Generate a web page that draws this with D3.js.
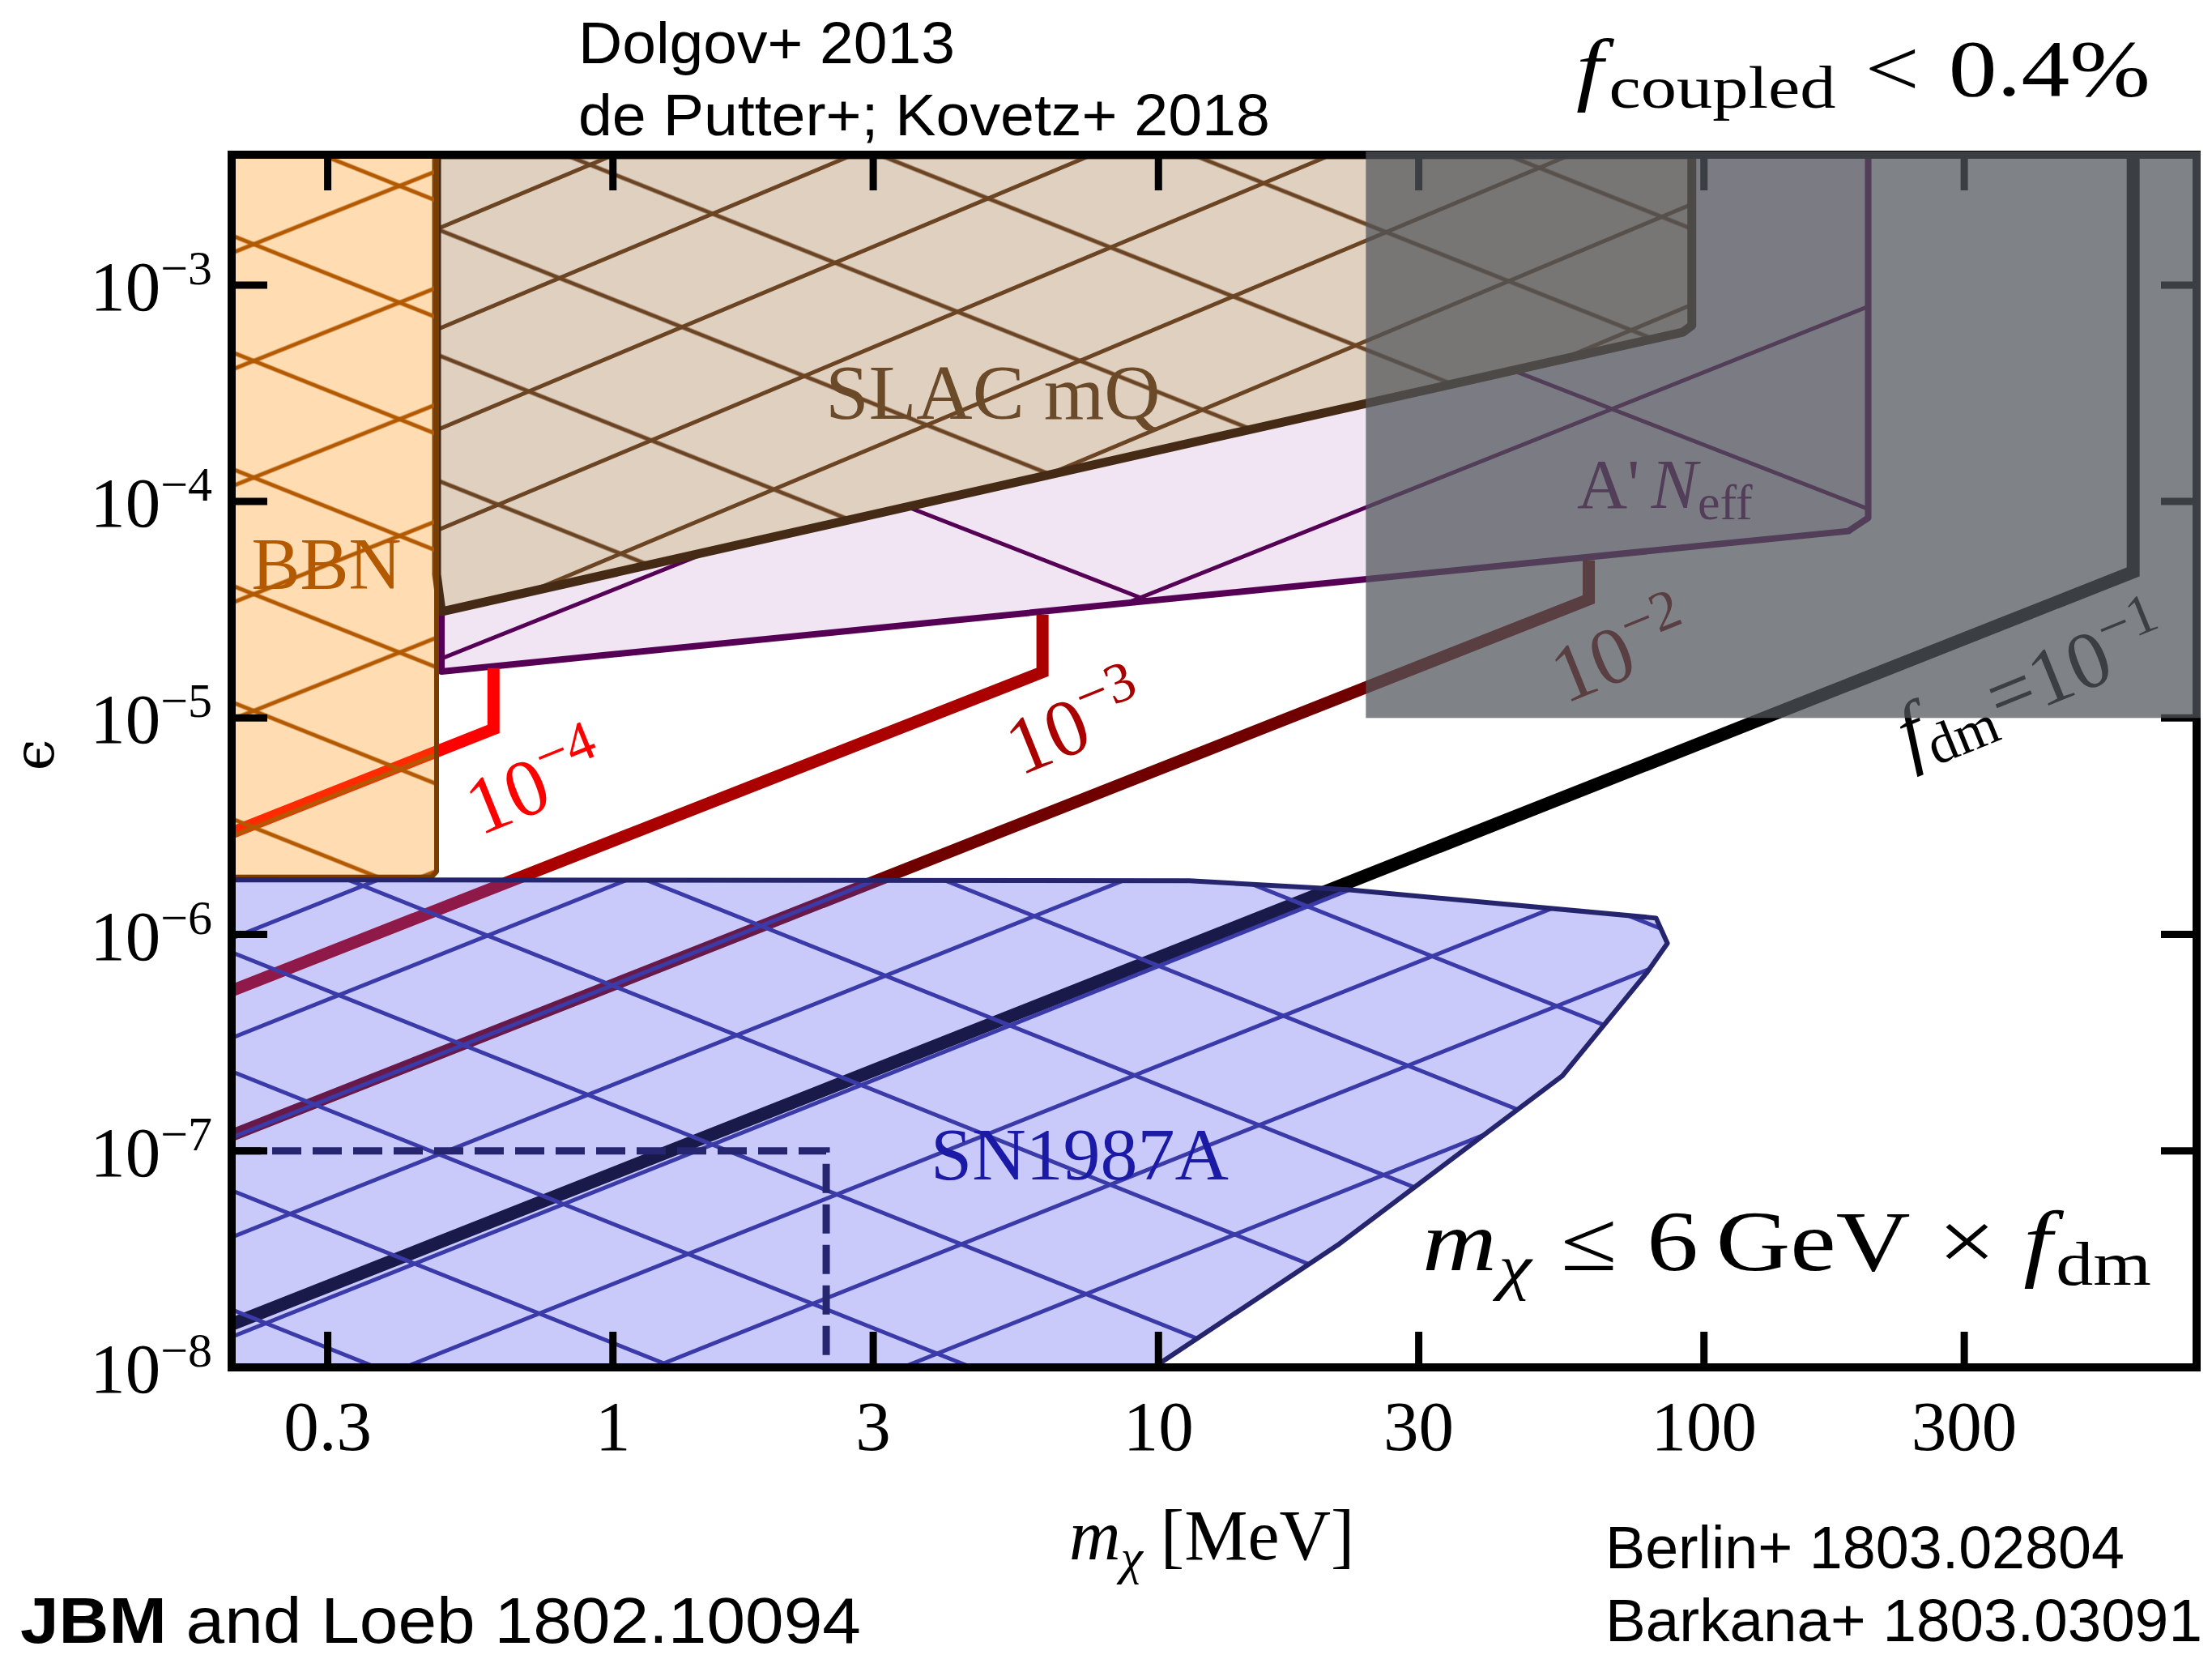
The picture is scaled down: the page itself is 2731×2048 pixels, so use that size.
<!DOCTYPE html>
<html>
<head>
<meta charset="utf-8">
<script src="https://cdn.jsdelivr.net/npm/d3@7"></script>
<style>
  html, body { margin: 0; padding: 0; background: #fff; }
  svg { display: block; }
  .serif { font-family: "Liberation Serif", "DejaVu Serif", serif; }
  .sans { font-family: "Liberation Sans", Arial, sans-serif; }
</style>
</head>
<body>
<svg id="chart" width="2731" height="2048"></svg>
<script>
// axes
var massRange = [0.2, 800];          // m_chi [MeV]
var epsRange = [1e-8, 4e-3];         // epsilon
var massTicks = [0.3, 1, 3, 10, 30, 100, 300];
var massTickLabels = ['0.3', '1', '3', '10', '30', '100', '300'];
var epsTicks = [1e-8, 1e-7, 1e-6, 1e-5, 1e-4, 1e-3];

// excluded regions, points are [m_chi, epsilon]
var bbn = [[0.2, 1.84e-6], [0.465, 1.84e-6], [0.475, 1.95e-6], [0.475, 4e-3], [0.2, 4e-3]];
var slac = [[0.475, 4e-3], [0.475, 4.6e-5], [0.485, 3.1e-5], [91.5, 6.06e-4], [95, 6.5e-4], [95, 4e-3]];
var aprime = [[0.485, 1.64e-5], [184, 7.3e-5], [200, 8.4e-5], [200, 4e-3], [95, 4e-3], [95, 6.5e-4], [91.5, 6.06e-4], [0.485, 3.1e-5]];
var sn1987a = [[0.2, 1.79e-6], [11.4, 1.77e-6], [22.2, 1.61e-6], [81.7, 1.19e-6], [85.7, 9.1e-7], [78.7, 6.7e-7],
               [55, 2.22e-7], [21.3, 3.67e-8], [9.8, 1e-8], [0.2, 1e-8]];
var snDashed = [[0.2, 1e-7], [2.46, 1e-7], [2.46, 1e-8]];
var barkanaMass = [24, 800];
var barkanaEps = [1e-5, 4e-3];

// f_dm curves (coupled fraction < 0.4%)
var fdm4 = [[0.2, 2.95e-6], [0.604, 8.9e-6], [0.604, 1.7e-5]];
var fdm3 = [[0.2, 5.5e-7], [6.13, 1.63e-5], [6.13, 3.0e-5]];
var fdm2 = [[0.2, 1.18e-7], [61.5, 3.53e-5], [61.5, 5.35e-5]];
var fdm1 = [[0.2, 1.58e-8], [612, 4.73e-5], [612, 4e-3]];
var fdmCurves = [fdm4, fdm3, fdm2, fdm1];
var fdmColors = ['#ff0000', '#aa0000', '#700000', '#000000'];

var W = 2731, H = 2048;
var margin = {left: 286, right: 19, top: 191, bottom: 360};

var x = d3.scaleLog().domain(massRange).range([margin.left, W - margin.right]);
var y = d3.scaleLog().domain(epsRange).range([H - margin.bottom, margin.top]);
var line = d3.line().x(function (d) { return x(d[0]); }).y(function (d) { return y(d[1]); });

var svg = d3.select('#chart');
var defs = svg.append('defs');

defs.append('clipPath').attr('id', 'plotclip').append('rect')
  .attr('x', x.range()[0]).attr('y', y.range()[1])
  .attr('width', x.range()[1] - x.range()[0])
  .attr('height', y.range()[0] - y.range()[1]);

// hatch = parallel lines; slope in screen px, vspace = vertical distance between lines
function hatch(id, color, sw, vspace, slope, anchor) {
  var ang = Math.atan(slope) * 180 / Math.PI;
  var h = vspace / Math.sqrt(1 + slope * slope);
  var p = defs.append('pattern')
    .attr('id', id)
    .attr('patternUnits', 'userSpaceOnUse')
    .attr('width', 400).attr('height', h)
    .attr('patternTransform', 'translate(' + anchor[0] + ',' + anchor[1] + ') rotate(' + ang + ') translate(0,' + (-h / 2) + ')');
  p.append('rect').attr('x', 0).attr('y', h / 2 - sw / 2).attr('width', 400).attr('height', sw).attr('fill', color);
}

hatch('bbnUp', '#b35900', 5, 144, -0.40, [292, 310]);
hatch('bbnDn', '#b35900', 5, 144, 0.40, [292, 293]);
hatch('slacUp', '#6b4423', 5, 124, -0.42, [539, 531]);
hatch('slacDn', '#6b4423', 5, 155, 0.40, [540, 283]);
hatch('apUp', '#560055', 5, 270, -0.40, [545, 813]);
hatch('apDn', '#560055', 5, 460, 0.39, [1175, 647]);
hatch('snUp', '#3a3aa8', 5, 123, -0.40, [292, 1279]);
hatch('snDn', '#3a3aa8', 5, 147, 0.40, [292, 1178]);

var plot = svg.append('g').attr('clip-path', 'url(#plotclip)');

function drawRegion(pts, opts) {
  var d = line(pts) + 'Z';
  var g = plot.append('g');
  g.append('path').attr('d', d).attr('fill', opts.fill).attr('fill-opacity', opts.opacity || 1);
  opts.hatch.forEach(function (id) {
    g.append('path').attr('d', d).attr('fill', 'url(#' + id + ')');
  });
  g.append('path').attr('d', d)
    .attr('fill', 'none')
    .attr('stroke', opts.edge)
    .attr('stroke-width', opts.edgeWidth)
    .attr('stroke-linejoin', 'round');
}

function mathText(parent, pieces, attrs) {
  var t = parent.append('text');
  Object.keys(attrs).forEach(function (k) { t.attr(k, attrs[k]); });
  pieces.forEach(function (p) {
    var s = t.append('tspan').text(p.t);
    if (p.size) s.attr('font-size', p.size);
    if (p.it) s.attr('font-style', 'italic');
    if (p.bold) s.attr('font-weight', 'bold');
    if (p.dx) s.attr('dx', p.dx);
    if (p.dy) s.attr('dy', p.dy);
  });
  return t;
}

// stretch a text horizontally so it spans [x0, x0 + width]
function fitWidth(t, x0, width) {
  var bb = t.node().getBBox();
  t.attr('transform', 'translate(' + x0 + ',0) scale(' + (width / bb.width) + ',1) translate(' + (-bb.x) + ',0)');
}

// regions under the curves
drawRegion(aprime, {fill: '#f1e5f3', hatch: ['apUp', 'apDn'], edge: '#560055', edgeWidth: 8});
drawRegion(slac, {fill: '#dfd0bf', hatch: ['slacUp', 'slacDn'], edge: '#452b16', edgeWidth: 11});

// f_dm lines
fdmCurves.forEach(function (c, i) {
  plot.append('path')
    .attr('d', line(c))
    .attr('fill', 'none')
    .attr('stroke', fdmColors[i])
    .attr('stroke-width', i == 3 ? 16 : 15)
    .attr('stroke-linejoin', 'miter')
    .attr('stroke-linecap', 'butt');
});

drawRegion(bbn, {fill: '#ff8c00', opacity: 0.3, hatch: ['bbnUp', 'bbnDn'], edge: '#7a3d00', edgeWidth: 6});
drawRegion(sn1987a, {fill: 'rgb(84,84,239)', opacity: 0.31, hatch: ['snUp', 'snDn'], edge: '#25256e', edgeWidth: 6});

plot.append('path')
  .attr('d', line(snDashed))
  .attr('fill', 'none')
  .attr('stroke', '#262670')
  .attr('stroke-width', 9)
  .attr('stroke-dasharray', '36,14');

// region labels
var labels = svg.append('g').attr('class', 'serif');
labels.append('text').attr('x', 403).attr('y', 727).attr('text-anchor', 'middle')
  .attr('font-size', 90).attr('fill', '#b35900').text('BBN');
labels.append('text').attr('x', 1226).attr('y', 517).attr('text-anchor', 'middle')
  .attr('font-size', 96).attr('fill', '#6b4a2a').text('SLAC mQ');
labels.append('text').attr('x', 1333).attr('y', 1456).attr('text-anchor', 'middle')
  .attr('font-size', 92).attr('fill', '#1a1aa6').text('SN1987A');
mathText(labels, [{t: "A'"}, {t: 'N', it: true, dx: 14}, {t: 'eff', size: 62, dy: 14}],
  {x: 1947, y: 627, 'font-size': 86, fill: '#560055'});

// f_dm labels along the lines
var fdmLabelPos = [[660, 966], [1327, 892], [2000, 803], [2507, 841]];
fdmLabelPos.forEach(function (p, i) {
  var g = labels.append('g').attr('transform', 'translate(' + p[0] + ',' + p[1] + ') rotate(-22)');
  var pieces = [{t: '10'}, {t: '\u2212' + (4 - i), size: 70, dy: -38}];
  if (i == 3) {
    pieces = [{t: 'f', it: true}, {t: 'dm', size: 70, dy: 17}, {t: '=', dy: -17, dx: 2},
              {t: '10'}, {t: '\u22121', size: 70, dy: -38}];
  }
  mathText(g, pieces, {x: 0, y: 36, 'text-anchor': 'middle', 'font-size': 100, fill: fdmColors[i]});
});

// axes frame and inward ticks
var axes = svg.append('g');
var x0 = x.range()[0], x1 = x.range()[1], y0 = y.range()[0], y1 = y.range()[1];
var tickLen = 44;

massTicks.forEach(function (t) {
  axes.append('line').attr('x1', x(t)).attr('x2', x(t)).attr('y1', y0).attr('y2', y0 - tickLen);
  axes.append('line').attr('x1', x(t)).attr('x2', x(t)).attr('y1', y1).attr('y2', y1 + tickLen);
});
epsTicks.forEach(function (t) {
  axes.append('line').attr('x1', x0).attr('x2', x0 + tickLen).attr('y1', y(t)).attr('y2', y(t));
  axes.append('line').attr('x1', x1).attr('x2', x1 - tickLen).attr('y1', y(t)).attr('y2', y(t));
});
axes.selectAll('line').attr('stroke', '#000').attr('stroke-width', 9);
axes.append('rect')
  .attr('x', x0).attr('y', y1).attr('width', x1 - x0).attr('height', y0 - y1)
  .attr('fill', 'none').attr('stroke', '#000').attr('stroke-width', 10);

// Barkana+ excluded box, on top of everything in the panel
svg.append('rect')
  .attr('x', x(barkanaMass[0])).attr('y', y(barkanaEps[1]) - 4)
  .attr('width', x(barkanaMass[1]) + 5 - x(barkanaMass[0]))
  .attr('height', y(barkanaEps[0]) - y(barkanaEps[1]) + 4)
  .attr('fill', '#50555a').attr('fill-opacity', 0.733);

// tick labels
var tl = svg.append('g').attr('class', 'serif').attr('fill', '#000');
massTicks.forEach(function (t, i) {
  tl.append('text').attr('x', x(t)).attr('y', 1790).attr('text-anchor', 'middle')
    .attr('font-size', 87).text(massTickLabels[i]);
});
epsTicks.forEach(function (t) {
  var e = Math.round(Math.log10(t));
  mathText(tl, [{t: '10'}, {t: '\u2212' + Math.abs(e), size: 60, dy: -32}],
    {x: 262, y: y(t) + 31, 'text-anchor': 'end', 'font-size': 87});
});

// axis titles
mathText(tl, [{t: 'm', it: true}, {t: '\u03c7', it: true, size: 62, dy: 18}, {t: '[MeV]', dx: 22, dy: -18}],
  {x: 1320, y: 1925, 'font-size': 88});
tl.append('text').attr('transform', 'translate(66,932) rotate(-90)')
  .attr('text-anchor', 'middle').attr('font-size', 70)
  .style('font-family', '"DejaVu Serif", serif').text('\u03f5');

// annotations
var fc = mathText(tl, [{t: 'f', it: true}, {t: 'coupled', size: 74, dx: 6, dy: 15},
                       {t: '<', dx: 30, dy: -15}, {t: '0.4%', dx: 30}],
  {x: 0, y: 118, 'font-size': 100});
fitWidth(fc, 1946, 709);

var mc = mathText(tl, [{t: 'm', it: true}, {t: '\u03c7', it: true, size: 76, dx: 2, dy: 22},
                       {t: '\u2264', dx: 30, dy: -22}, {t: '6', dx: 30}, {t: 'GeV', dx: 18},
                       {t: '\u00d7', dx: 28}, {t: 'f', it: true, dx: 28}, {t: 'dm', size: 76, dx: 4, dy: 18}],
  {x: 0, y: 1568, 'font-size': 105});
fitWidth(mc, 1756, 900);

// references (sans)
var refs = svg.append('g').attr('class', 'sans').attr('fill', '#000');
var r1 = refs.append('text').attr('x', 0).attr('y', 78).attr('font-size', 72).text('Dolgov+ 2013');
fitWidth(r1, 714, 465);
var r2 = refs.append('text').attr('x', 0).attr('y', 167).attr('font-size', 72).text('de Putter+; Kovetz+ 2018');
fitWidth(r2, 714, 854);
var r3 = mathText(refs, [{t: 'JBM', bold: true}, {t: ' and Loeb 1802.10094'}], {x: 0, y: 2028, 'font-size': 80});
fitWidth(r3, 25, 1038);
var r4 = refs.append('text').attr('x', 0).attr('y', 1936).attr('font-size', 74).text('Berlin+ 1803.02804');
fitWidth(r4, 1982, 641);
var r5 = refs.append('text').attr('x', 0).attr('y', 2026).attr('font-size', 74).text('Barkana+ 1803.03091');
fitWidth(r5, 1982, 737);
</script>
</body>
</html>
